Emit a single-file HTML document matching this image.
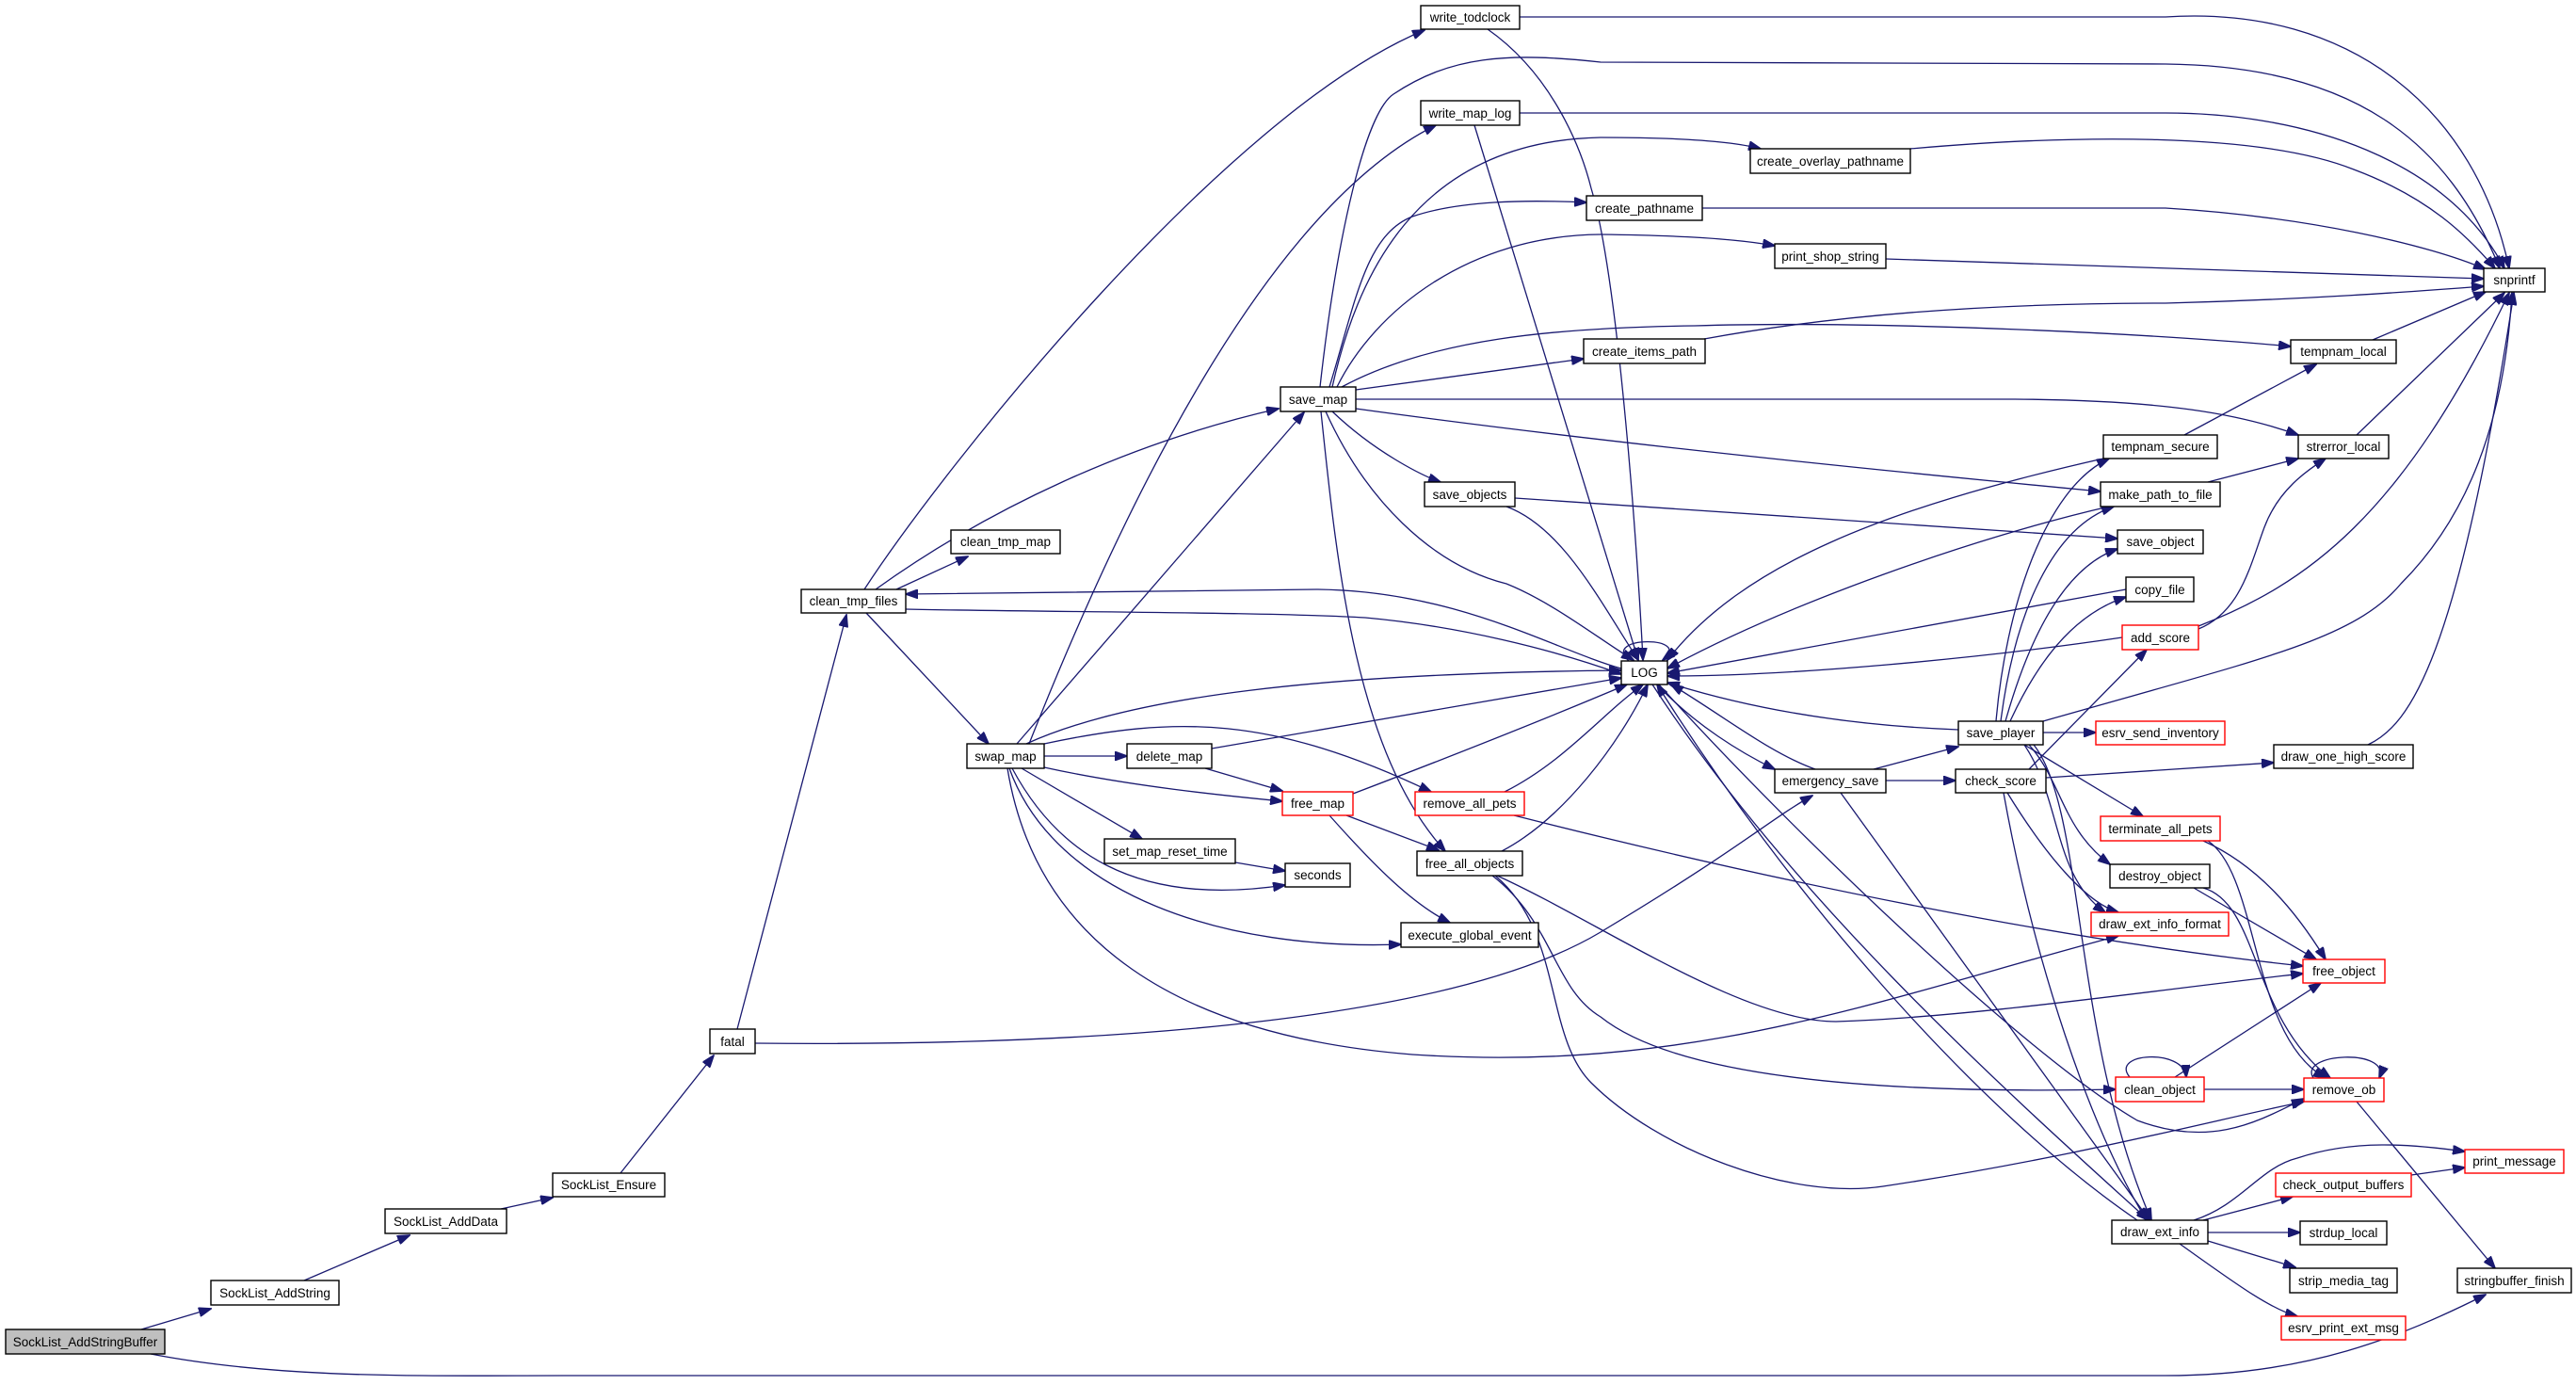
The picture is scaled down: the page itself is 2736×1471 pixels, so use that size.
<!DOCTYPE html>
<html><head><meta charset="utf-8"><style>
html,body{margin:0;padding:0;background:#fff;}
svg{display:block;}
text{font-family:"Liberation Sans",sans-serif;font-size:13.5px;fill:#000;}
.e{fill:none;stroke:#191970;stroke-width:1.3;marker-end:url(#a);}
.n{fill:#fff;stroke:#000;stroke-width:1.4;}
.r{fill:#fff;stroke:#ff0000;stroke-width:1.4;}
</style></head><body>
<svg width="2736" height="1471" viewBox="0 0 2736 1471" xmlns="http://www.w3.org/2000/svg">
<defs><marker id="a" markerUnits="userSpaceOnUse" markerWidth="14" markerHeight="10" refX="13" refY="5" orient="auto"><path d="M0,0 L14,5 L0,10 z" fill="#191970" stroke="#191970"/></marker></defs>
<g>
<path class="e" d="M150,1412 L224,1390"/>
<path class="e" d="M160,1438 C300,1465 450,1461 600,1461 L2300,1461 C2450,1461 2550,1420 2640,1375"/>
<path class="e" d="M323,1360 L435,1312"/>
<path class="e" d="M532,1284 L587,1272"/>
<path class="e" d="M659,1246 L758,1121"/>
<path class="e" d="M783,1093 L899,653"/>
<path class="e" d="M802,1108 C1200,1112 1550,1080 1700,990 S1880,870 1925,845"/>
<path class="e" d="M918,626 C1000,500 1300,120 1513,32"/>
<path class="e" d="M930,626 C1050,540 1200,470 1358,434"/>
<path class="e" d="M952,626 L1028,591"/>
<path class="e" d="M962,647 C1100,650 1350,650 1450,656 C1550,665 1650,690 1722,716"/>
<path class="e" d="M1722,710 C1650,690 1550,628 1400,626 L962,631"/>
<path class="e" d="M920,651 L1050,790"/>
<path class="e" d="M1402,411 C1420,250 1450,120 1480,100 C1540,60 1600,55 1700,66 L2300,68 C2500,70 2600,150 2655,285"/>
<path class="e" d="M1614,18 L2300,18 C2500,5 2630,120 2665,285"/>
<path class="e" d="M1080,790 L1385,438"/>
<path class="e" d="M1093,790 C1200,520 1350,220 1525,133"/>
<path class="e" d="M1109,803 L1197,803"/>
<path class="e" d="M1109,815 C1200,835 1300,845 1362,851"/>
<path class="e" d="M1085,816 L1213,891"/>
<path class="e" d="M1075,816 C1120,900 1200,965 1365,940"/>
<path class="e" d="M1072,816 C1120,950 1300,1010 1488,1003"/>
<path class="e" d="M1090,790 C1200,740 1400,715 1722,712"/>
<path class="e" d="M1109,790 C1250,760 1350,760 1520,841"/>
<path class="e" d="M1070,816 C1100,1000 1250,1100 1500,1120 C1800,1140 2000,1060 2250,994"/>
<path class="e" d="M1415,411 C1440,300 1500,150 1700,146 C1780,146 1840,150 1870,158"/>
<path class="e" d="M1412,411 C1440,320 1450,250 1500,230 C1550,213 1620,212 1685,215"/>
<path class="e" d="M1420,411 C1460,330 1560,250 1700,249 C1780,250 1840,253 1885,261"/>
<path class="e" d="M1440,414 L1682,381"/>
<path class="e" d="M1425,411 C1520,360 1650,348 1800,346 C2000,340 2300,355 2433,368"/>
<path class="e" d="M1440,424 L2140,424 C2300,425 2380,440 2441,462"/>
<path class="e" d="M1440,434 C1700,470 2000,500 2231,522"/>
<path class="e" d="M1415,437 C1460,480 1510,505 1530,512"/>
<path class="e" d="M1408,437 C1450,530 1520,600 1600,620 C1650,640 1700,680 1735,701"/>
<path class="e" d="M1403,437 C1420,600 1440,800 1535,904"/>
<path class="e" d="M1609,529 L2249,572"/>
<path class="e" d="M1600,538 C1660,560 1700,640 1740,701"/>
<path class="e" d="M1580,31 C1650,80 1680,160 1690,200 C1720,300 1740,600 1745,701"/>
<path class="e" d="M1614,120 L2300,120 C2450,120 2600,170 2660,285"/>
<path class="e" d="M1566,133 L1740,701"/>
<path class="e" d="M2029,158 C2200,143 2400,140 2500,180 C2580,210 2620,250 2650,285"/>
<path class="e" d="M1808,221 L2300,221 C2450,230 2580,260 2640,286"/>
<path class="e" d="M2003,275 L2638,296"/>
<path class="e" d="M1810,360 C2000,325 2200,322 2300,322 C2450,318 2560,310 2638,304"/>
<path class="e" d="M2520,361 L2640,310"/>
<path class="e" d="M2320,462 L2460,387"/>
<path class="e" d="M2503,462 L2660,311"/>
<path class="e" d="M2345,512 L2441,487"/>
<path class="e" d="M2335,668 C2380,650 2390,600 2405,560 C2420,520 2450,500 2470,487"/>
<path class="e" d="M2335,665 C2450,620 2550,550 2665,311"/>
<path class="e" d="M2170,766 C2400,700 2500,680 2550,620 C2620,550 2660,450 2668,311"/>
<path class="e" d="M2515,791 C2560,770 2610,700 2670,311"/>
<path class="e" d="M2234,487 C2000,540 1850,600 1771,701"/>
<path class="e" d="M2240,538 C2100,570 1900,640 1771,710"/>
<path class="e" d="M2258,626 L1771,715"/>
<path class="e" d="M2254,677 C2100,700 1900,718 1771,718"/>
<path class="e" d="M2080,775 C1950,770 1850,750 1771,725"/>
<path class="e" d="M1928,817 C1880,800 1830,760 1775,727"/>
<path class="e" d="M1760,727 C1800,770 1850,800 1885,817"/>
<path class="e" d="M1730,702 C1700,675 1800,675 1766,701"/>
<path class="e" d="M1287,795 L1722,720"/>
<path class="e" d="M1280,816 L1362,840"/>
<path class="e" d="M1437,843 C1550,800 1650,760 1728,727"/>
<path class="e" d="M1430,866 L1528,903"/>
<path class="e" d="M1412,866 C1460,920 1500,960 1540,980"/>
<path class="e" d="M1312,916 L1365,925"/>
<path class="e" d="M1598,841 C1660,810 1700,760 1745,727"/>
<path class="e" d="M1608,866 C1900,940 2200,1000 2446,1026"/>
<path class="e" d="M1595,904 C1660,870 1720,790 1750,727"/>
<path class="e" d="M1590,930 C1700,980 1850,1085 1950,1085 C2100,1080 2300,1050 2446,1034"/>
<path class="e" d="M1585,930 C1650,980 1650,1050 1700,1080 C1800,1160 2100,1160 2247,1157"/>
<path class="e" d="M1588,930 C1660,990 1640,1100 1690,1150 C1760,1220 1900,1275 2000,1260 C2200,1230 2350,1190 2447,1170"/>
<path class="e" d="M1762,727 C1900,880 2150,1120 2270,1190 C2350,1220 2400,1190 2447,1167"/>
<path class="e" d="M2270,1296 C2100,1180 1900,950 1760,727"/>
<path class="e" d="M1755,727 C1900,950 2120,1150 2282,1296"/>
<path class="e" d="M1990,817 L2080,793"/>
<path class="e" d="M2003,829 L2077,829"/>
<path class="e" d="M1955,842 L2283,1296"/>
<path class="e" d="M2170,778 L2226,778"/>
<path class="e" d="M2150,791 L2276,867"/>
<path class="e" d="M2155,791 C2190,830 2190,880 2241,918"/>
<path class="e" d="M2150,791 C2190,850 2180,930 2236,969"/>
<path class="e" d="M2160,791 C2215,860 2200,1100 2285,1296"/>
<path class="e" d="M2120,766 C2130,650 2170,520 2240,487"/>
<path class="e" d="M2125,766 C2140,650 2180,560 2245,538"/>
<path class="e" d="M2130,766 C2160,660 2200,600 2249,583"/>
<path class="e" d="M2135,766 C2170,690 2210,650 2258,634"/>
<path class="e" d="M2155,817 L2280,690"/>
<path class="e" d="M2173,826 L2415,810"/>
<path class="e" d="M2132,842 C2180,920 2220,960 2250,969"/>
<path class="e" d="M2128,842 C2160,1020 2220,1200 2280,1296"/>
<path class="e" d="M2340,893 C2400,920 2440,970 2470,1019"/>
<path class="e" d="M2345,893 C2400,930 2390,1100 2470,1145"/>
<path class="e" d="M2330,943 L2460,1019"/>
<path class="e" d="M2340,943 C2400,960 2390,1080 2475,1145"/>
<path class="e" d="M2262,1144 C2240,1118 2320,1113 2322,1144"/>
<path class="e" d="M2310,1144 L2465,1044"/>
<path class="e" d="M2341,1157 L2447,1157"/>
<path class="e" d="M2457,1145 C2440,1118 2540,1113 2527,1145"/>
<path class="e" d="M2503,1170 L2650,1347"/>
<path class="e" d="M2330,1296 C2380,1280 2400,1240 2440,1230 C2500,1210 2560,1215 2618,1223"/>
<path class="e" d="M2340,1296 L2435,1271"/>
<path class="e" d="M2345,1309 L2443,1309"/>
<path class="e" d="M2345,1318 L2438,1346"/>
<path class="e" d="M2315,1321 C2370,1360 2410,1390 2440,1398"/>
<path class="e" d="M2561,1248 L2618,1240"/>
</g>
<g>
<rect x="6" y="1412" width="169" height="26" fill="#bfbfbf" stroke="#000" stroke-width="1.4"/><text x="90.5" y="1430" text-anchor="middle">SockList_AddStringBuffer</text>
<rect class="n" x="224" y="1360" width="136" height="26"/><text x="292" y="1378" text-anchor="middle">SockList_AddString</text>
<rect class="n" x="409" y="1284" width="129" height="26"/><text x="473.5" y="1302" text-anchor="middle">SockList_AddData</text>
<rect class="n" x="587" y="1246" width="119" height="25"/><text x="646.5" y="1263" text-anchor="middle">SockList_Ensure</text>
<rect class="n" x="754" y="1093" width="48" height="26"/><text x="778" y="1111" text-anchor="middle">fatal</text>
<rect class="n" x="851" y="626" width="111" height="25"/><text x="906.5" y="643" text-anchor="middle">clean_tmp_files</text>
<rect class="n" x="1010" y="563" width="116" height="25"/><text x="1068" y="580" text-anchor="middle">clean_tmp_map</text>
<rect class="n" x="1027" y="790" width="82" height="26"/><text x="1068" y="808" text-anchor="middle">swap_map</text>
<rect class="n" x="1360" y="411" width="80" height="26"/><text x="1400" y="429" text-anchor="middle">save_map</text>
<rect class="n" x="1509" y="6" width="105" height="25"/><text x="1561.5" y="23" text-anchor="middle">write_todclock</text>
<rect class="n" x="1509" y="107" width="105" height="26"/><text x="1561.5" y="125" text-anchor="middle">write_map_log</text>
<rect class="n" x="1513" y="512" width="96" height="26"/><text x="1561" y="530" text-anchor="middle">save_objects</text>
<rect class="n" x="1197" y="790" width="90" height="26"/><text x="1242" y="808" text-anchor="middle">delete_map</text>
<rect class="r" x="1362" y="841" width="75" height="25"/><text x="1399.5" y="858" text-anchor="middle">free_map</text>
<rect class="r" x="1503" y="841" width="116" height="25"/><text x="1561" y="858" text-anchor="middle">remove_all_pets</text>
<rect class="n" x="1173" y="891" width="139" height="26"/><text x="1242.5" y="909" text-anchor="middle">set_map_reset_time</text>
<rect class="n" x="1365" y="917" width="69" height="25"/><text x="1399.5" y="934" text-anchor="middle">seconds</text>
<rect class="n" x="1505" y="904" width="112" height="26"/><text x="1561" y="922" text-anchor="middle">free_all_objects</text>
<rect class="n" x="1488" y="980" width="146" height="26"/><text x="1561" y="998" text-anchor="middle">execute_global_event</text>
<rect class="n" x="1859" y="158" width="170" height="26"/><text x="1944" y="176" text-anchor="middle">create_overlay_pathname</text>
<rect class="n" x="1685" y="208" width="123" height="26"/><text x="1746.5" y="226" text-anchor="middle">create_pathname</text>
<rect class="n" x="1885" y="259" width="118" height="26"/><text x="1944" y="277" text-anchor="middle">print_shop_string</text>
<rect class="n" x="1682" y="360" width="129" height="26"/><text x="1746.5" y="378" text-anchor="middle">create_items_path</text>
<rect class="n" x="1722" y="702" width="49" height="25"/><text x="1746.5" y="719" text-anchor="middle">LOG</text>
<rect class="n" x="2234" y="462" width="121" height="25"/><text x="2294.5" y="479" text-anchor="middle">tempnam_secure</text>
<rect class="n" x="2231" y="512" width="127" height="26"/><text x="2294.5" y="530" text-anchor="middle">make_path_to_file</text>
<rect class="n" x="2249" y="563" width="91" height="25"/><text x="2294.5" y="580" text-anchor="middle">save_object</text>
<rect class="n" x="2258" y="613" width="72" height="26"/><text x="2294" y="631" text-anchor="middle">copy_file</text>
<rect class="r" x="2254" y="664" width="81" height="26"/><text x="2294.5" y="682" text-anchor="middle">add_score</text>
<rect class="n" x="2638" y="285" width="65" height="25"/><text x="2670.5" y="302" text-anchor="middle">snprintf</text>
<rect class="n" x="2433" y="361" width="112" height="25"/><text x="2489" y="378" text-anchor="middle">tempnam_local</text>
<rect class="n" x="2441" y="462" width="96" height="25"/><text x="2489" y="479" text-anchor="middle">strerror_local</text>
<rect class="n" x="2415" y="791" width="148" height="25"/><text x="2489" y="808" text-anchor="middle">draw_one_high_score</text>
<rect class="r" x="2446" y="1019" width="87" height="25"/><text x="2489.5" y="1036" text-anchor="middle">free_object</text>
<rect class="r" x="2447" y="1145" width="85" height="25"/><text x="2489.5" y="1162" text-anchor="middle">remove_ob</text>
<rect class="r" x="2618" y="1221" width="105" height="25"/><text x="2670.5" y="1238" text-anchor="middle">print_message</text>
<rect class="r" x="2417" y="1246" width="144" height="25"/><text x="2489" y="1263" text-anchor="middle">check_output_buffers</text>
<rect class="n" x="2443" y="1297" width="92" height="25"/><text x="2489" y="1314" text-anchor="middle">strdup_local</text>
<rect class="n" x="2432" y="1347" width="114" height="26"/><text x="2489" y="1365" text-anchor="middle">strip_media_tag</text>
<rect class="n" x="2610" y="1347" width="121" height="26"/><text x="2670.5" y="1365" text-anchor="middle">stringbuffer_finish</text>
<rect class="r" x="2423" y="1398" width="132" height="25"/><text x="2489" y="1415" text-anchor="middle">esrv_print_ext_msg</text>
<rect class="n" x="2080" y="766" width="90" height="25"/><text x="2125" y="783" text-anchor="middle">save_player</text>
<rect class="r" x="2226" y="766" width="137" height="25"/><text x="2294.5" y="783" text-anchor="middle">esrv_send_inventory</text>
<rect class="n" x="1885" y="817" width="118" height="25"/><text x="1944" y="834" text-anchor="middle">emergency_save</text>
<rect class="n" x="2077" y="817" width="96" height="25"/><text x="2125" y="834" text-anchor="middle">check_score</text>
<rect class="r" x="2231" y="867" width="127" height="26"/><text x="2294.5" y="885" text-anchor="middle">terminate_all_pets</text>
<rect class="n" x="2241" y="918" width="106" height="25"/><text x="2294" y="935" text-anchor="middle">destroy_object</text>
<rect class="r" x="2221" y="969" width="146" height="25"/><text x="2294" y="986" text-anchor="middle">draw_ext_info_format</text>
<rect class="r" x="2247" y="1144" width="94" height="26"/><text x="2294" y="1162" text-anchor="middle">clean_object</text>
<rect class="n" x="2243" y="1296" width="102" height="25"/><text x="2294" y="1313" text-anchor="middle">draw_ext_info</text>
</g>
</svg>
</body></html>
